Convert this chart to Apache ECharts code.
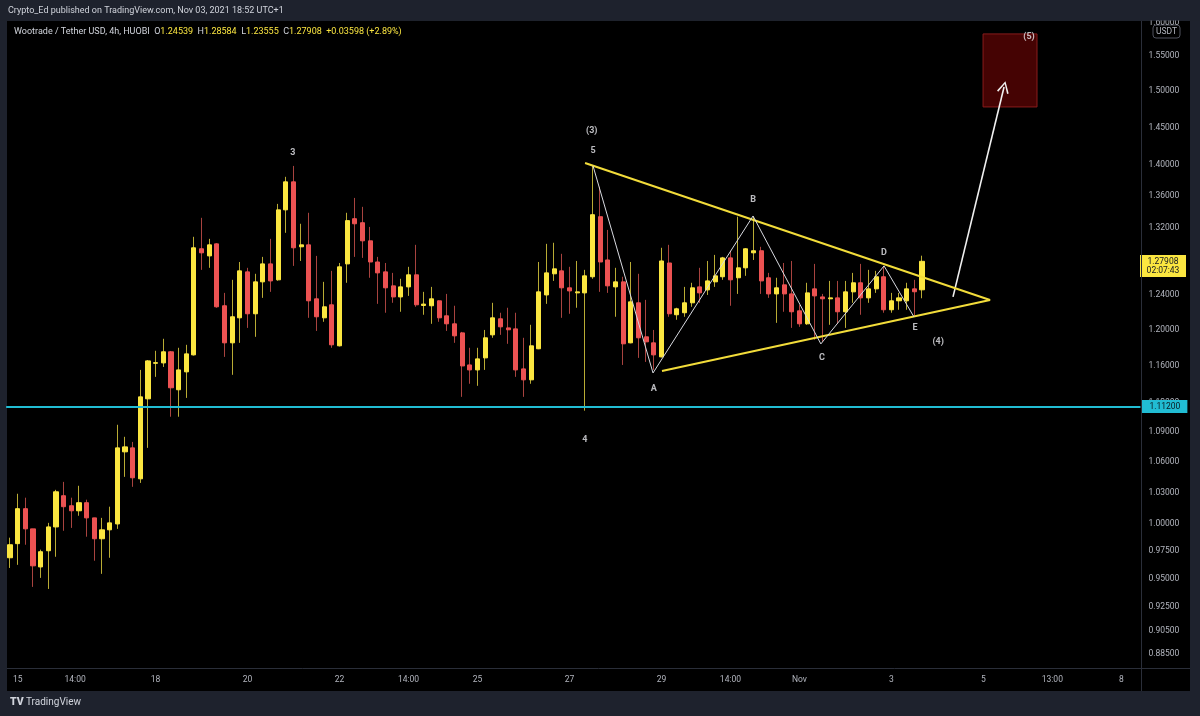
<!DOCTYPE html>
<html><head><meta charset="utf-8">
<script src="https://cdn.jsdelivr.net/npm/echarts@6/dist/echarts.min.js"></script>
<style>html,body{margin:0;padding:0;background:#1e222d;}#c{width:1200px;height:716px;}</style>
</head><body><div id="c"></div>
<script>
// ---- data (4h candles, Wootrade / Tether USD, HUOBI) ----
const opens = [0.9688,0.9817,1.0144,0.9954,0.9605,0.9752,0.9972,1.0268,1.0172,1.0124,
1.0201,1.0057,0.9862,0.9945,1.0000,1.0699,1.0739,1.0432,1.1244,1.1625,
1.1629,1.1751,1.1340,1.1532,1.1717,1.2942,1.2856,1.3002,1.2269,1.1850,
1.2131,1.2665,1.2177,1.2547,1.2760,1.2571,1.3423,1.3780,1.2966,1.2990,
1.2349,1.2131,1.2280,1.1817,1.2760,1.3312,1.3262,1.3039,1.2783,1.2665,
1.2500,1.2371,1.2488,1.2630,1.2272,1.2269,1.2326,1.2154,1.2063,1.1961,
1.1607,1.1553,1.1684,1.1939,1.2120,1.2017,1.2006,1.1564,1.1446,1.1784,
1.2394,1.2642,1.2677,1.2477,1.2418,1.2418,1.2607,1.3337,1.2807,1.2488,
1.2547,1.1850,1.2303,1.1917,1.1850,1.1695,1.2771,1.2166,1.2189,1.2303,
1.2488,1.2453,1.2547,1.2607,1.2832,1.2595,1.2713,1.2893,1.2918,1.2595,
1.2406,1.2512,1.2406,1.2211,1.2063,1.2465,1.2371,1.2349,1.2360,1.2200,
1.2430,1.2536,1.2360,1.2465,1.2607,1.2223,1.2326,1.2326,1.2465,1.24539];
const closes = [0.9807,1.0144,0.9954,0.9615,0.9743,0.9972,1.0306,1.0163,1.0124,1.0201,
1.0057,0.9862,0.9945,1.0010,1.0739,1.0749,1.0442,1.1265,1.1651,1.1632,
1.1751,1.1361,1.1553,1.1728,1.2954,1.2893,1.2990,1.2257,1.1850,1.2143,
1.2677,1.2177,1.2547,1.2760,1.2558,1.3423,1.3780,1.2954,1.2990,1.2326,
1.2143,1.2257,1.1828,1.2725,1.3288,1.3249,1.3039,1.2783,1.2653,1.2477,
1.2371,1.2488,1.2630,1.2280,1.2288,1.2349,1.2131,1.2063,1.1928,1.1596,
1.1553,1.1673,1.1906,1.2131,1.2029,1.1996,1.1553,1.1446,1.1817,1.2430,
1.2653,1.2701,1.2477,1.2441,1.2430,1.2618,1.3362,1.2783,1.2500,1.2547,
1.1839,1.2314,1.1906,1.1861,1.1717,1.2795,1.2177,1.2234,1.2303,1.2477,
1.2418,1.2558,1.2618,1.2832,1.2571,1.2713,1.2942,1.2918,1.2558,1.2406,
1.2477,1.2406,1.2200,1.2063,1.2418,1.2383,1.2349,1.2360,1.2200,1.2430,
1.2536,1.2360,1.2465,1.2607,1.2223,1.2326,1.2360,1.2465,1.2431,1.27908];
const highs = [0.9872,1.0287,1.0249,0.9954,0.9762,1.0010,1.0325,1.0402,1.0249,1.0364,
1.0230,1.0057,1.0057,1.0163,1.0974,1.0851,1.0799,1.1553,1.1660,1.1762,
1.1895,1.1760,1.1795,1.1828,1.3088,1.3323,1.3063,1.3010,1.2418,1.2571,
1.2783,1.2713,1.2642,1.2844,1.3063,1.3498,1.3845,1.3987,1.3249,1.3386,
1.2856,1.2547,1.2677,1.2771,1.3386,1.3574,1.3461,1.3210,1.2844,1.2771,
1.2653,1.2583,1.2725,1.2990,1.2430,1.2488,1.2330,1.2406,1.2269,1.1972,
1.1795,1.1795,1.1994,1.2303,1.2189,1.2246,1.2189,1.1906,1.2052,1.2783,
1.3002,1.3015,1.2881,1.2725,1.2795,1.2689,1.4000,1.3716,1.3173,1.2713,
1.2607,1.2783,1.2642,1.2337,1.1994,1.2954,1.2990,1.2246,1.2488,1.2536,
1.2713,1.2795,1.2868,1.2844,1.2918,1.3337,1.2950,1.3337,1.2966,1.2653,
1.2595,1.2771,1.2795,1.2280,1.2536,1.2760,1.2406,1.2558,1.2558,1.2558,
1.2653,1.2760,1.2689,1.2677,1.2736,1.2418,1.2418,1.2536,1.2571,1.28584];
const lows = [0.9596,0.9624,0.9807,0.9427,0.9507,0.9409,0.9697,0.9936,0.9963,1.0077,
0.9881,0.9661,0.9543,0.9688,0.9954,1.0451,1.0354,1.0392,1.0739,1.1478,
1.1585,1.1057,1.1057,1.1254,1.1710,1.2689,1.2713,1.2246,1.1695,1.1500,
1.1850,1.2017,1.1917,1.2360,1.2430,1.2560,1.3137,1.2736,1.2795,1.2131,
1.1983,1.2086,1.1795,1.1810,1.2536,1.2844,1.2832,1.2595,1.2291,1.2189,
1.2303,1.2200,1.2383,1.2257,1.2166,1.2063,1.2086,1.1983,1.1850,1.1265,
1.1404,1.1382,1.1553,1.1906,1.1939,1.1839,1.1478,1.1265,1.1404,1.1780,
1.2291,1.2558,1.2131,1.2177,1.2246,1.1120,1.2583,1.2430,1.2418,1.2143,
1.1607,1.1845,1.1684,1.1640,1.1553,1.1690,1.2143,1.2109,1.2143,1.2257,
1.2303,1.2394,1.2488,1.2571,1.2269,1.2406,1.2618,1.2807,1.2406,1.2360,
1.2074,1.2200,1.2017,1.2029,1.2052,1.1884,1.1861,1.2052,1.2063,1.2017,
1.2303,1.2166,1.2303,1.2418,1.2189,1.2189,1.2223,1.2223,1.2154,1.23555];

// time-axis ticks (bar index -> label)
const xTickIdx = [1, 8.5, 19, 31, 43, 52, 61, 73, 85, 94, 103, 115, 127, 136, 145];
const xTickLabels = ['15','14:00','18','20','22','14:00','25','27','29','14:00','Nov','3','5','13:00','8'];
// price-axis ticks
const yTicks = [1.6, 1.55, 1.5, 1.45, 1.4, 1.36, 1.32, 1.24, 1.2, 1.16, 1.12, 1.09, 1.06, 1.03, 1.0, 0.975, 0.95, 0.925, 0.905, 0.885];

// horizontal support level
const supportLevel = 1.112;
// triangle (bar index, price)
const triIdx   = [75.03, 127.87, 85.07];
const triPrice = [1.4026, 1.2336, 1.1542];
// wave path 5-A-B-C-D-E
const waveIdx   = [76.07, 83.9, 96.95, 105.8, 114.04, 117.95];
const wavePrice = [1.3987, 1.152, 1.3346, 1.1838, 1.2736, 1.2141];
// projection arrow
const arrowIdx   = [123.04, 129.7];
const arrowPrice = [1.2371, 1.5061];
// target box
const boxIdx   = [126.96, 134.0];
const boxPrice = [1.5829, 1.4782];
// wave labels
const labelText  = ['3', '(3)', '5', '4', 'A', 'B', 'C', 'D', 'E', '(4)', '(5)'];
const labelIdx   = [36.9, 75.9, 76.07, 75.0, 84.0, 96.95, 105.95, 114.04, 118.1, 121.1, 132.96];
const labelPrice = [1.4158, 1.4453, 1.4184, 1.0819, 1.1349, 1.3548, 1.1683, 1.2892, 1.2017, 1.186, 1.5784];

const countdown = '02:07:43';
const yAxisTopPrice = 1.6022, yAxisBottomPrice = 0.8737;

// ---- chart ----
const L = Math.log;
const n = opens.length;
const FONT = "Roboto, 'DejaVu Sans', sans-serif";
const UP = '#fbe640', DOWN = '#ec5252', UPW = '#b9ab34', DOWNW = '#a8433f';
const TXT = '#b2b5be';
const FRAME = '#1e222d';

const wickData = opens.map((o, i) => [i, L(o), L(closes[i]), L(lows[i]), L(highs[i])]);
const bodyData = opens.map((o, i) => [i, L(o), L(closes[i]), L(Math.min(o, closes[i])), L(Math.max(o, closes[i]))]);
const last = n - 1;
const chg = closes[last] - closes[last - 1];
const chgPct = chg / closes[last - 1] * 100;
const f5 = v => v.toFixed(5);
const sgn = v => (v >= 0 ? '+' : '');

const chart = echarts.init(document.getElementById('c'));
chart.setOption({
  backgroundColor: FRAME,
  animation: false,
  grid: { left: 6.17, top: 21, width: 1134.3, height: 647 },
  xAxis: {
    type: 'value', min: -0.5, max: 147.5,
    axisLine: { show: false }, axisTick: { show: false }, splitLine: { show: false },
    axisLabel: {
      customValues: xTickIdx,
      formatter: v => { const k = xTickIdx.indexOf(v); return k >= 0 ? xTickLabels[k] : ''; },
      color: TXT, fontSize: 8.5, fontFamily: FONT, margin: 7
    }
  },
  yAxis: {
    type: 'value', position: 'right', min: L(yAxisBottomPrice), max: L(yAxisTopPrice),
    axisLine: { show: false }, axisTick: { show: false }, splitLine: { show: false },
    axisLabel: {
      customValues: yTicks.map(L),
      formatter: v => Math.exp(v).toFixed(5),
      color: TXT, fontSize: 8.5, fontFamily: FONT, margin: 8
    }
  },
  series: [
    { type: 'candlestick', name: 'wicks', data: wickData, barWidth: 0.1, z: 2,
      itemStyle: { color: UPW, color0: DOWNW, borderColor: UPW, borderColor0: DOWNW, borderWidth: 1 } },
    { type: 'candlestick', name: 'bodies', data: bodyData, barWidth: 4.6, z: 3,
      itemStyle: { color: UP, color0: DOWN, borderColor: UP, borderColor0: DOWN, borderWidth: 1 },
      markLine: {
        silent: true, symbol: 'none', animation: false,
        data: [
          { yAxis: L(supportLevel), lineStyle: { color: '#21bcd3', width: 2, type: 'solid' },
            label: { show: true, position: 'end', distance: 1, formatter: f5(supportLevel), backgroundColor: '#21bcd3', color: '#0b1a22', fontSize: 8.5, fontFamily: FONT, padding: [2, 7, 2, 8] } }
        ]
      } },
    { type: 'line', name: 'triangle', z: 5, symbol: 'none', silent: true,
      data: triIdx.map((x, i) => [x, L(triPrice[i])]),
      lineStyle: { color: '#f2dc3a', width: 2 },
      markArea: { silent: true,
        itemStyle: { color: '#450303', borderColor: '#8a1c1c', borderWidth: 1 },
        data: [[{ coord: [boxIdx[0], L(boxPrice[0])] }, { coord: [boxIdx[1], L(boxPrice[1])] }]] } },
    { type: 'line', name: 'wave', z: 6, symbol: 'none', silent: true,
      data: waveIdx.map((x, i) => [x, L(wavePrice[i])]),
      lineStyle: { color: '#d8dae0', width: 1 },
      markLine: { silent: true, animation: false,
        symbol: ['none', 'path://M0,10 L5,0 L10,10 L8.8,10.8 L5,2.6 L1.2,10.8 Z'], symbolSize: [12, 12],
        lineStyle: { color: '#f0f0f0', width: 1.6, type: 'solid' }, label: { show: false },
        data: [[{ coord: [arrowIdx[0], L(arrowPrice[0])] }, { coord: [arrowIdx[1], L(arrowPrice[1])] }]] } },
    { type: 'scatter', name: 'labels', z: 7, symbolSize: 0, silent: true,
      data: labelText.map((t, i) => [labelIdx[i], L(labelPrice[i]), t]),
      label: { show: true, position: 'inside', formatter: p => p.value[2], color: '#e8e9ee', fontSize: 9, fontWeight: 'bold', fontFamily: FONT } }
  ]
});

// frame, header and the last-price badge (badge placed through the y scale)
const py = chart.convertToPixel({ yAxisIndex: 0 }, L(closes[last]));
chart.setOption({
  graphic: [
    { id: 'pane', type: 'rect', z: -10, shape: { x: 7, y: 21, width: 1183, height: 670 }, style: { fill: '#000000' } },
    { id: 'topband', type: 'rect', z: 30, shape: { x: 0, y: 0, width: 1200, height: 20.5 }, style: { fill: FRAME } },
    { id: 'vsep', type: 'line', z: 10, shape: { x1: 1141.5, y1: 21, x2: 1141.5, y2: 691 }, style: { stroke: '#2a2e39', lineWidth: 1 } },
    { id: 'hsep', type: 'line', z: 10, shape: { x1: 7, y1: 668.5, x2: 1190, y2: 668.5 }, style: { stroke: '#2a2e39', lineWidth: 1 } },
    { id: 'hdr', type: 'text', z: 31, x: 8, y: 6, style: { text: 'Crypto_Ed published on TradingView.com, Nov 03, 2021 18:52 UTC+1', fill: '#d1d4dc', fontSize: 9, fontFamily: FONT } },
    { id: 'legend', type: 'text', z: 10, x: 14, y: 27, style: {
        text: 'Wootrade / Tether USD, 4h, HUOBI  O{v|' + f5(opens[last]) + '}  H{v|' + f5(highs[last]) + '}  L{v|' + f5(lows[last]) + '}  C{v|' + f5(closes[last]) + '}  {v|' + sgn(chg) + f5(chg) + ' (' + sgn(chg) + chgPct.toFixed(2) + '%)}',
        fill: '#d1d4dc', fontSize: 9, fontFamily: FONT,
        rich: { v: { fill: UP, fontSize: 9, fontFamily: FONT } } } },
    { id: 'usdt', type: 'group', z: 20, x: 1153, y: 25, children: [
        { type: 'rect', shape: { x: 0, y: 0, width: 27, height: 13, r: 3 }, style: { fill: '#000', stroke: '#50535e', lineWidth: 1 } },
        { type: 'text', x: 13.5, y: 6.5, style: { text: 'USDT', fill: TXT, fontSize: 8.5, fontFamily: FONT, align: 'center', verticalAlign: 'middle' } }
    ] },
    { id: 'tvlogo', type: 'text', z: 10, x: 10, y: 697, style: { text: 'TV', fill: '#d1d4dc', fontSize: 10.5, fontWeight: 900, fontFamily: FONT } },
    { id: 'tvname', type: 'text', z: 10, x: 26, y: 697, style: { text: 'TradingView', fill: '#d1d4dc', fontSize: 10, fontFamily: FONT } },
    { id: 'priceBadge', type: 'group', z: 25, x: 1140, y: py - 6.4, children: [
        { type: 'rect', shape: { x: 0, y: 0, width: 46, height: 22 }, style: { fill: UP } },
        { type: 'text', x: 23, y: 11.5, style: { text: f5(closes[last]) + '\n' + countdown, fill: '#131722', fontSize: 8.5, lineHeight: 9, fontFamily: FONT, align: 'center', verticalAlign: 'middle' } }
    ] }
  ]
});
</script>
</body></html>
